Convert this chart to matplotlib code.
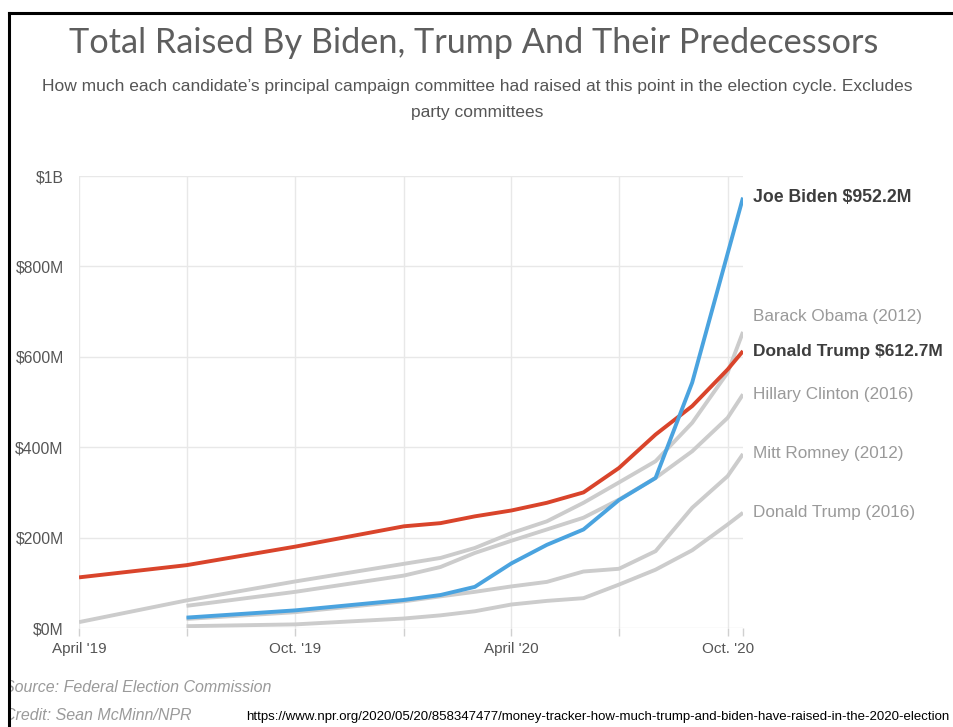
import matplotlib
matplotlib.use("Agg")
import matplotlib.pyplot as plt
from matplotlib.lines import Line2D
from matplotlib.patches import Rectangle
import pandas as pd

# --- data (millions of dollars raised, cumulative) ---
dates_full = pd.to_datetime(["2019-04-01", "2019-07-01", "2019-10-01", "2020-01-01",
                             "2020-02-01", "2020-03-01", "2020-04-01", "2020-05-01",
                             "2020-06-01", "2020-07-01", "2020-08-01", "2020-09-01",
                             "2020-10-01", "2020-10-14"])
dates_late = dates_full[1:]
dates_biden = dates_full[1:12].append(dates_full[13:])

trump_2020 = [112, 139, 180, 225, 232, 247, 260, 277, 300, 354, 428, 491, 572, 612.7]
biden_2020 = [23, 39, 62, 73, 91, 143, 184, 218, 283, 332, 543, 952.2]
obama_2012 = [13, 61, 103, 142, 155, 177, 210, 236, 277, 322, 369, 454, 565, 655]
clinton_2016 = [49, 80, 116, 135, 166, 193, 218, 244, 284, 332, 391, 465, 517]
romney_2012 = [20, 35, 59, 70, 80, 92, 102, 125, 131, 170, 266, 336, 385]
trump_2016 = [4, 8, 21, 28, 37, 52, 60, 66, 96, 129, 172, 229, 255]

gray_series = [
    ("Barack Obama (2012)", dates_full, obama_2012),
    ("Hillary Clinton (2016)", dates_late, clinton_2016),
    ("Mitt Romney (2012)", dates_late, romney_2012),
    ("Donald Trump (2016)", dates_late, trump_2016),
]

y_ticks = [0, 200, 400, 600, 800, 1000]
y_labels = ["$0M", "$200M", "$400M", "$600M", "$800M", "$1B"]
x_label_dates = pd.to_datetime(["2019-04-01", "2019-10-01", "2020-04-01", "2020-10-01"])
x_labels = ["April '19", "Oct. '19", "April '20", "Oct. '20"]
x_grid_dates = pd.to_datetime(["2019-04-01", "2019-07-01", "2019-10-01", "2020-01-01",
                               "2020-04-01", "2020-07-01", "2020-10-01"])

BLUE = "#4aa3df"
RED = "#d9442b"
GRAY = "#cccccc"
plt.rcParams["font.family"] = ["Liberation Sans", "DejaVu Sans"]

fig = plt.figure(figsize=(9.54, 7.27), dpi=100)
W, H = 954, 727
ax = fig.add_axes([79 / W, 1 - 628 / H, (743 - 79) / W, (628 - 176) / H])

for name, d, v in gray_series:
    ax.plot(d, v, color=GRAY, lw=2.8, solid_capstyle="butt", zorder=2)
ax.plot(dates_full, trump_2020, color=RED, lw=2.8, solid_capstyle="butt", zorder=3)
ax.plot(dates_biden, biden_2020, color=BLUE, lw=2.8, solid_capstyle="butt", zorder=4)

ax.set_xlim(dates_full[0], dates_full[-1])
ax.set_ylim(0, 1000)
for s in ax.spines.values():
    s.set_visible(False)
ax.set_yticks(y_ticks)
ax.set_yticklabels(y_labels)
ax.yaxis.grid(True, color="#e8e8e8", lw=1)
for d in x_grid_dates:
    ax.axvline(d, color="#e8e8e8", lw=1, zorder=0)
ax.set_axisbelow(True)
ax.tick_params(axis="y", length=0, pad=11, labelsize=11.3, labelcolor="#555555")
ax.set_xticks(x_label_dates)
ax.set_xticklabels(x_labels)
ax.set_xticks(list(x_grid_dates) + [dates_full[-1]], minor=True)
ax.tick_params(axis="x", which="both", length=6, color="#d0d0d0", width=1,
               pad=4, labelsize=11, labelcolor="#555555")

# end labels
ax.annotate("Joe Biden $952.2M", (dates_biden[-1], biden_2020[-1]), xytext=(7, 0),
            textcoords="offset points", va="center", fontsize=12.7, fontweight="bold",
            color="#3d3d3d")
ax.annotate("Donald Trump $612.7M", (dates_full[-1], trump_2020[-1]), xytext=(7, 0),
            textcoords="offset points", va="center", fontsize=12.5, fontweight="bold",
            color="#3d3d3d")
nudge = {"Barack Obama (2012)": 11}
for name, d, v in gray_series:
    ax.annotate(name, (d[-1], v[-1]), xytext=(7, nudge.get(name, 0)),
                textcoords="offset points", va="center", fontsize=12.3, color="#9a9a9a",
                annotation_clip=False)

# titles
fig.text(0.497, 1 - 43 / H, "Total Raised By Biden, Trump And Their Predecessors",
         ha="center", va="center", fontsize=24.7, color="#5e5e5e",
         family=["Lato", "DejaVu Sans"])
fig.text(0.5, 1 - 86 / H,
         "How much each candidate\u2019s principal campaign committee had raised at this point in the election cycle. Excludes",
         ha="center", va="center", fontsize=12.5, color="#555555")
fig.text(0.5, 1 - 112 / H, "party committees", ha="center", va="center",
         fontsize=12.5, color="#555555")

# footer
fig.text(4 / W, 1 - 688 / H, "Source: Federal Election Commission", ha="left", va="center",
         fontsize=11.5, style="italic", color="#9a9a9a")
fig.text(4 / W, 1 - 716 / H, "Credit: Sean McMinn/NPR", ha="left", va="center",
         fontsize=11.5, style="italic", color="#9a9a9a")
fig.text(246 / W, 1 - 717 / H,
         "https://www.npr.org/2020/05/20/858347477/money-tracker-how-much-trump-and-biden-have-raised-in-the-2020-election",
         ha="left", va="center", fontsize=9.52, color="black")

# screenshot frame
fig.add_artist(Rectangle((0, 0), 8 / W, 1, transform=fig.transFigure, color="white", zorder=5))
fig.add_artist(Line2D([9 / W, 9 / W], [0, 1 - 13 / H], transform=fig.transFigure,
                      color="black", lw=2.2, zorder=6))
fig.add_artist(Line2D([9 / W, 953 / W], [1 - 13 / H, 1 - 13 / H], transform=fig.transFigure,
                      color="black", lw=2.2, zorder=6, solid_capstyle="projecting"))

fig.savefig("out.png", dpi=100)
